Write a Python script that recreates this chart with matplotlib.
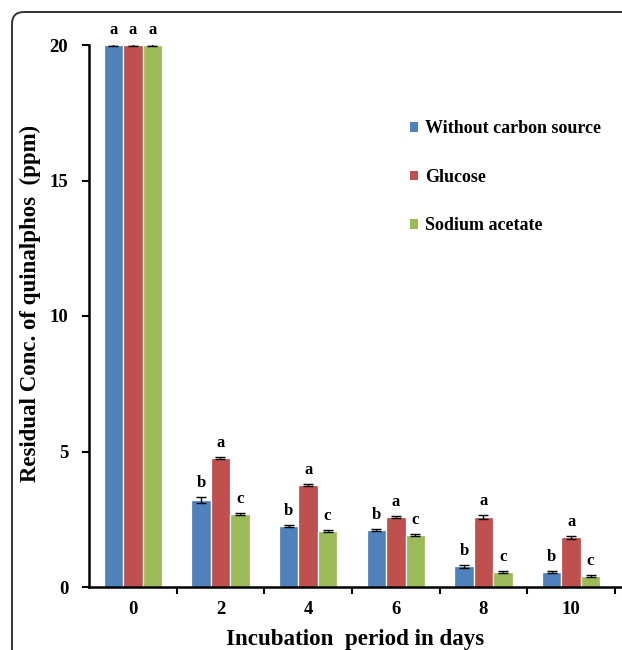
import matplotlib
matplotlib.use("Agg")
import matplotlib.pyplot as plt
import numpy as np
from matplotlib.patches import FancyBboxPatch, Patch

plt.rcParams['font.family'] = ['Liberation Serif', 'DejaVu Serif']
plt.rcParams['font.weight'] = 'bold'

days = ["0", "2", "4", "6", "8", "10"]
series = ["Without carbon source", "Glucose", "Sodium acetate"]
colors = ["#4F81BD", "#C0504D", "#9BBB59"]

no_carbon = [20.0, 3.21, 2.25, 2.10, 0.77, 0.55]
glucose = [20.0, 4.76, 3.76, 2.58, 2.58, 1.84]
sodium_acetate = [20.0, 2.69, 2.07, 1.92, 0.55, 0.41]

no_carbon_err = [0.05, 0.10, 0.05, 0.05, 0.06, 0.05]
glucose_err = [0.05, 0.05, 0.05, 0.05, 0.08, 0.06]
sodium_acetate_err = [0.05, 0.05, 0.03, 0.05, 0.05, 0.03]

no_carbon_letters = ["a", "b", "b", "b", "b", "b"]
glucose_letters = ["a", "a", "a", "a", "a", "a"]
sodium_acetate_letters = ["a", "c", "c", "c", "c", "c"]

values = [no_carbon, glucose, sodium_acetate]
errors = [no_carbon_err, glucose_err, sodium_acetate_err]
letters = [no_carbon_letters, glucose_letters, sodium_acetate_letters]

W, H = 622, 650
fig = plt.figure(figsize=(W / 100, H / 100), dpi=100)

# rounded panel frame
frame_ax = fig.add_axes([0, 0, 1, 1], zorder=-1)
frame_ax.set_xlim(0, W)
frame_ax.set_ylim(H, 0)
frame_ax.axis("off")
frame_ax.add_patch(FancyBboxPatch((12, 12), 800, 800,
                                  boxstyle="round,pad=0,rounding_size=12",
                                  fill=False, edgecolor="#333333", linewidth=1.4))

ax = fig.add_axes([89 / W, 63 / H, 533 / W, 542 / H])
ax.patch.set_alpha(0)

x = np.arange(len(days))
bw = 0.222
for i, (vals, errs, labs, c) in enumerate(zip(values, errors, letters, colors)):
    pos = x + (i - 1) * bw
    ax.bar(pos, vals, width=bw, color=c, edgecolor="white", linewidth=0.9,
           label=series[i], zorder=2)
    ax.errorbar(pos, vals, yerr=errs, fmt="none", ecolor="black",
                elinewidth=1.0, capsize=3.5, capthick=1.0, zorder=3)
    for p, v, e, t in zip(pos, vals, errs, labs):
        ax.text(p, v + e + 0.22, t, ha="center", va="bottom",
                fontsize=12, fontweight="bold")

ax.set_xlim(-0.5, 5.58)
ax.set_ylim(0, 20)
ax.set_yticks([0, 5, 10, 15, 20])
ax.set_yticklabels(["0", "5", "10", "15", "20"], fontsize=13.5, fontweight="bold")
ax.set_xticks(x)
ax.set_xticklabels(days, fontsize=13.5, fontweight="bold")
ax.tick_params(axis="x", length=0, pad=10)
ax.set_xticks(np.arange(-0.5, 6.0, 1.0)[1:], minor=True)
ax.tick_params(axis="x", which="minor", length=5, width=1.5, direction="out")
ax.tick_params(axis="y", length=5, width=1.5, direction="out", pad=10)

for s in ["top", "right"]:
    ax.spines[s].set_visible(False)
for s in ["left", "bottom"]:
    ax.spines[s].set_linewidth(1.8)
ax.spines["left"].set_bounds(0, 20)

ax.set_ylabel("Residual Conc. of quinalphos  (ppm)", fontsize=16.5,
              fontweight="bold")
ax.yaxis.set_label_coords((41 - 89) / 533, (587 - 303) / 542)
ax.set_xlabel("Incubation  period in days", fontsize=16.6, fontweight="bold",
              labelpad=8)

handles = [Patch(facecolor=c, edgecolor="none") for c in colors]
leg = ax.legend(handles, series, loc="upper left",
                bbox_to_anchor=(314 / 533, (587 - 113) / 542),
                frameon=False, prop={"family": "Liberation Serif", "weight": "bold", "size": 13},
                handlelength=0.45, handleheight=0.45, handletextpad=0.35,
                labelspacing=1.75, borderaxespad=0)

fig.savefig("out.png", dpi=100)
